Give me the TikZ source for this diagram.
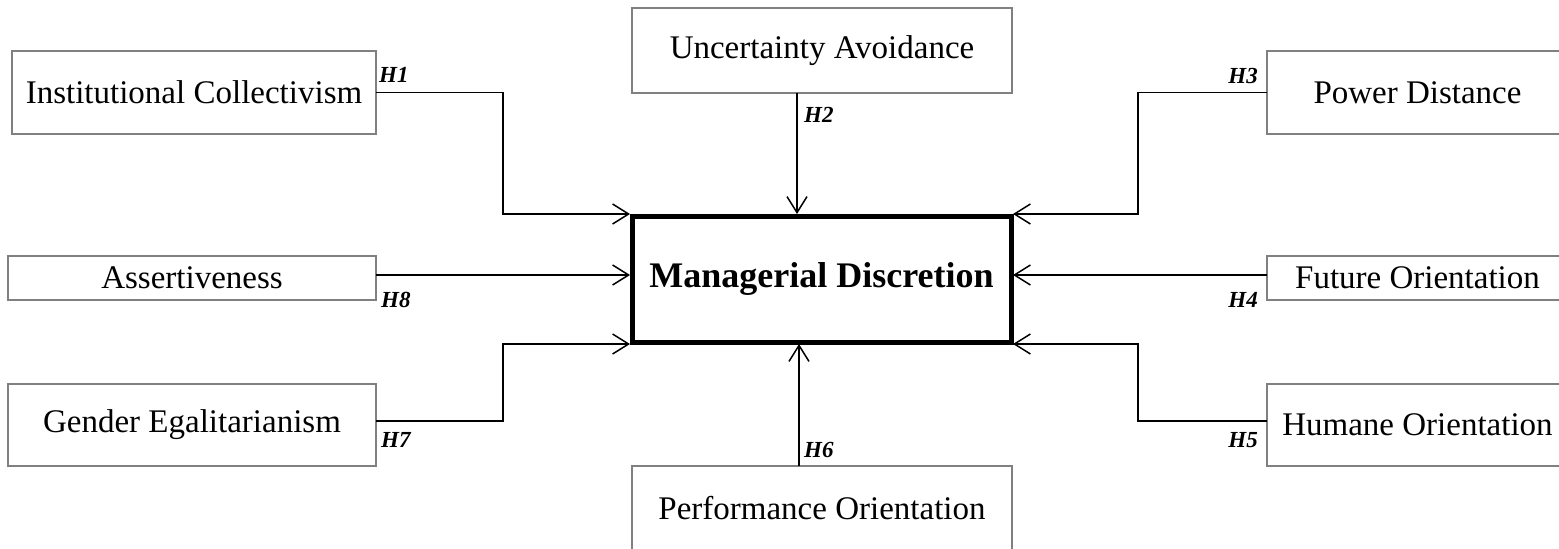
\documentclass[tikz,border=0pt]{standalone}
\usepackage{fontspec}
\setmainfont{Liberation Serif}
\usetikzlibrary{arrows.meta}
\definecolor{boxgray}{RGB}{128,128,128}
\begin{document}
\begin{tikzpicture}[x=1pt,y=-1pt,
  box/.style={draw=boxgray, line width=2pt, inner sep=0pt, outer sep=0pt,
    font=\fontsize{33}{38}\selectfont},
  mainbox/.style={draw=black, line width=5pt, inner sep=0pt, outer sep=2pt,
    font=\fontsize{36}{42}\selectfont\bfseries},
  conn/.style={line width=1.5pt, -{Straight Barb[length=16pt,width=20pt,line width=1.5pt]}},
  hlab/.style={inner sep=0pt, font=\fontsize{23}{26}\selectfont\bfseries\itshape}]
\useasboundingbox (0,0) rectangle (1559,549);
\clip (0,0) rectangle (1559,549);

% central box
\node[mainbox, minimum width=379pt, minimum height=126pt] (md) at (821.5,279) {Managerial Discretion};

% left boxes
\node[box, minimum width=364pt, minimum height=83pt] (ic) at (194,92.5) {Institutional Collectivism};
\node[box, minimum width=368pt, minimum height=44pt] (as) at (192,278) {Assertiveness};
\node[box, minimum width=368pt, minimum height=82pt] (ge) at (192,425) {Gender Egalitarianism};

% right boxes
\node[box, minimum width=301pt, minimum height=83pt] (pd) at (1417.5,92.5) {Power Distance};
\node[box, minimum width=301pt, minimum height=44pt] (fo) at (1417.5,278) {Future Orientation};
\node[box, minimum width=301pt, minimum height=82pt] (ho) at (1417.5,425) {Humane Orientation};

% top / bottom boxes
\node[box, minimum width=380pt, minimum height=85pt] (ua) at (822,50.5) {Uncertainty Avoidance};
\node[box, minimum width=380pt, minimum height=84pt] (po) at (822,508) {Performance Orientation};

% connectors
\draw[conn] (ic.east) -| ([xshift=-127pt]md.north west) -- (md.north west);
\draw[conn] ([xshift=-25pt]ua.south) -- ([xshift=-25pt]ua.south |- md.north);
\draw[conn] (pd.west) -| ([xshift=125pt]md.north east) -- (md.north east);
\draw[conn] ([yshift=3pt]as.east) -- ([yshift=3pt]as.east -| md.west);
\draw[conn] ([yshift=3pt]fo.west) -- ([yshift=3pt]fo.west -| md.east);
\draw[conn] ([yshift=4pt]ge.east) -| ([xshift=-127pt]md.south west) -- (md.south west);
\draw[conn] ([yshift=4pt]ho.west) -| ([xshift=125pt]md.south east) -- (md.south east);
\draw[conn] ([xshift=-23pt]po.north) -- ([xshift=-23pt]po.north |- md.south);

% labels
\node[hlab, anchor=base west] (l1) at (379,82) {H1};
\node[hlab, anchor=base west] (l2) at (804,122) {H2};
\node[hlab, anchor=base east] (l3) at (1258,83) {H3};
\node[hlab, anchor=base east] (l4) at (1258,307) {H4};
\node[hlab, anchor=base east] (l5) at (1258,447) {H5};
\node[hlab, anchor=base west] (l6) at (804,457) {H6};
\node[hlab, anchor=base west] (l7) at (381,447) {H7};
\node[hlab, anchor=base west] (l8) at (381,307) {H8};
\end{tikzpicture}
\end{document}
